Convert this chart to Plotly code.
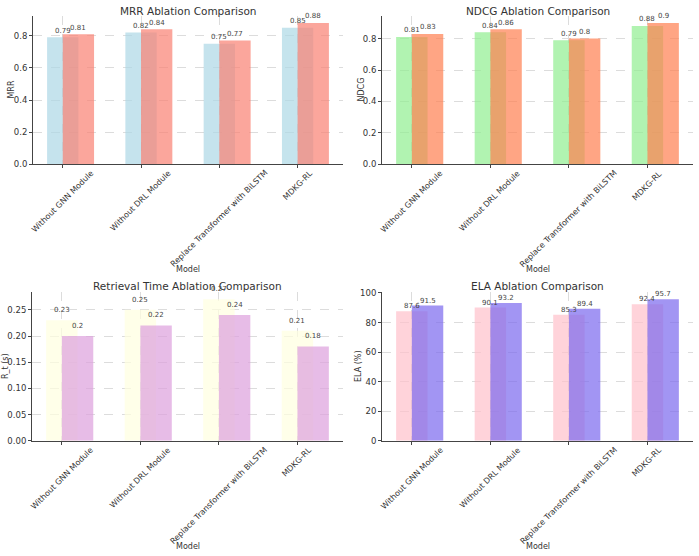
import plotly.graph_objects as go

categories = ["Without GNN Module", "Without DRL Module", "Replace Transformer with BiLSTM", "MDKG-RL"]

mrr_a = [0.79, 0.82, 0.75, 0.85]
mrr_b = [0.81, 0.84, 0.77, 0.88]
ndcg_a = [0.81, 0.84, 0.79, 0.88]
ndcg_b = [0.83, 0.86, 0.80, 0.90]
rt_a = [0.23, 0.25, 0.27, 0.21]
rt_b = [0.20, 0.22, 0.24, 0.18]
ela_a = [87.6, 90.1, 85.3, 92.4]
ela_b = [91.5, 93.2, 89.4, 95.7]

panels = [
    dict(title="MRR Ablation Comparison", ylab="MRR", a=mrr_a, b=mrr_b,
         ca="#ADD8E6", cb="#FA8072", dtick=0.2, fmt=".1f"),
    dict(title="NDCG Ablation Comparison", ylab="NDCG", a=ndcg_a, b=ndcg_b,
         ca="#90EE90", cb="#FF7F50", dtick=0.2, fmt=".1f"),
    dict(title="Retrieval Time Ablation Comparison", ylab="R_t (s)", a=rt_a, b=rt_b,
         ca="#FFFFE0", cb="#DDA0DD", dtick=0.05, fmt=".2f"),
    dict(title="ELA Ablation Comparison", ylab="ELA (%)", a=ela_a, b=ela_b,
         ca="#FFC0CB", cb="#7B68EE", dtick=20, fmt="d"),
]

W, H = 699, 556
xdoms = [[33 / W, 343 / W], [382 / W, 693 / W], [32 / W, 343 / W], [382 / W, 693 / W]]
ydoms = [[1 - 163 / H, 1 - 12 / H], [1 - 163 / H, 1 - 12 / H],
         [1 - 444 / H, 1 - 293 / H], [1 - 444 / H, 1 - 293 / H]]
title_y = [7, 7, 287, 287]
model_y = [270, 270, 551, 551]
ylab_x = [11.5, 361.5, 5.5, 358.5]

TXT = "#333333"
FONT = "DejaVu Sans"

fig = go.Figure()
annotations = []
idx = list(range(len(categories)))

for i, p in enumerate(panels):
    n = "" if i == 0 else str(i + 1)
    xa, ya = "x" + n, "y" + n
    fig.add_trace(go.Bar(x=idx, y=p["a"], width=0.4, marker=dict(color=p["ca"], line=dict(width=0)),
                         opacity=0.7, xaxis=xa, yaxis=ya, showlegend=False))
    fig.add_trace(go.Bar(x=idx, y=p["b"], width=0.4, offset=0.0,
                         marker=dict(color=p["cb"], line=dict(width=0)),
                         opacity=0.7, xaxis=xa, yaxis=ya, showlegend=False))
    ymax = max(max(p["a"]), max(p["b"])) * 1.05
    fig.layout["xaxis" + n] = dict(domain=xdoms[i], anchor=ya, range=[-0.38, 3.58],
                                   tickvals=idx, showticklabels=False, ticks="outside",
                                   ticklen=3, tickcolor="#444", showline=True, linecolor="#444",
                                   linewidth=1, showgrid=True, gridcolor="#dcdcdc",
                                   griddash="dash", gridwidth=0.8, zeroline=False)
    fig.layout["yaxis" + n] = dict(domain=ydoms[i], anchor=xa, range=[0, ymax], dtick=p["dtick"],
                                   tick0=0, tickformat=p["fmt"], ticks="outside", ticklen=3,
                                   tickcolor="#444", showline=True, linecolor="#444", linewidth=1,
                                   showgrid=True, gridcolor="#dcdcdc", griddash="dash",
                                   gridwidth=0.8, zeroline=False,
                                   tickfont=dict(family=FONT, size=8.5, color=TXT))
    xc = (xdoms[i][0] + xdoms[i][1]) / 2
    yc = (ydoms[i][0] + ydoms[i][1]) / 2
    annotations.append(dict(text=p["title"], x=xc, y=1 - title_y[i] / H, xref="paper", yref="paper",
                            xanchor="center", yanchor="middle", showarrow=False,
                            font=dict(family=FONT, size=10.5, color=TXT)))
    annotations.append(dict(text="Model", x=xc, y=1 - model_y[i] / H, xref="paper", yref="paper",
                            xanchor="center", yanchor="middle", showarrow=False,
                            font=dict(family=FONT, size=8, color=TXT)))
    annotations.append(dict(text=p["ylab"], x=ylab_x[i] / W, y=yc, xref="paper", yref="paper",
                            xanchor="center", yanchor="middle", showarrow=False, textangle=-90,
                            font=dict(family=FONT, size=8, color=TXT)))
    for k, cat in enumerate(categories):
        annotations.append(dict(text=cat, x=k, y=ydoms[i][0], xref=xa, yref="paper",
                                xanchor="center", yanchor="top", yshift=-3, showarrow=False,
                                textangle=-45, borderpad=0,
                                font=dict(family=FONT, size=8, color=TXT)))
        off = 0.01
        annotations.append(dict(text=f"{p['a'][k]:g}", x=k, y=p["a"][k] + off, xref=xa, yref=ya,
                                xanchor="center", yanchor="bottom", showarrow=False, borderpad=0,
                                font=dict(family=FONT, size=7, color="#444")))
        annotations.append(dict(text=f"{p['b'][k]:g}", x=k + 0.2, y=p["b"][k] + off, xref=xa, yref=ya,
                                xanchor="center", yanchor="bottom", showarrow=False, borderpad=0,
                                font=dict(family=FONT, size=7, color="#444")))

fig.update_layout(width=W, height=H, margin=dict(l=0, r=0, t=0, b=0), barmode="overlay",
                  paper_bgcolor="white", plot_bgcolor="white", annotations=annotations,
                  font=dict(family=FONT, color=TXT))

fig.write_html("out.html")
